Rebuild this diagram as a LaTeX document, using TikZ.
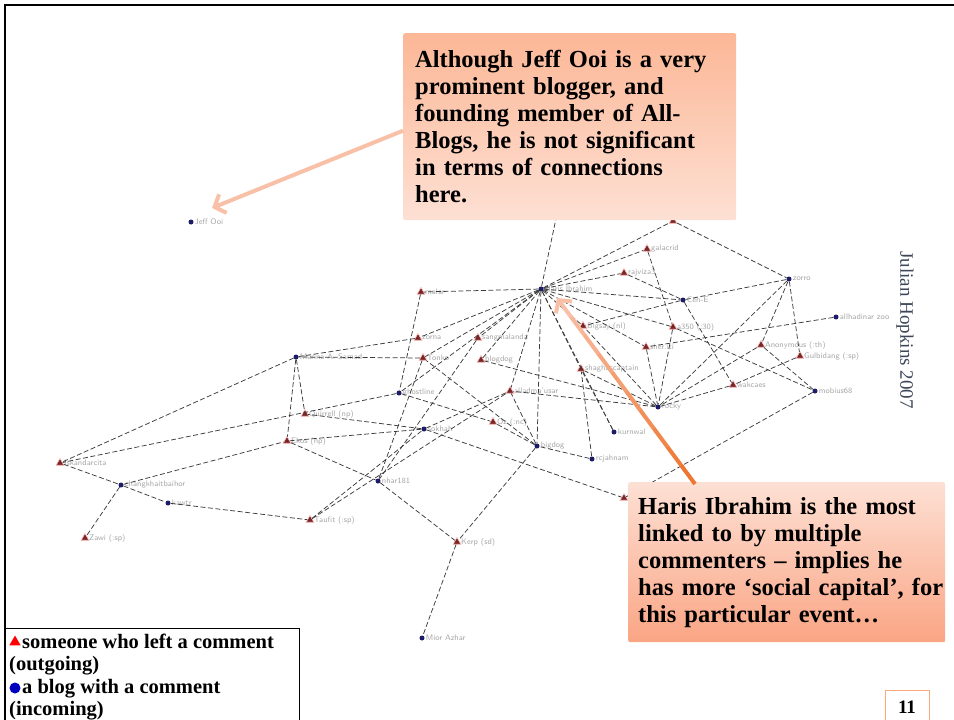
\documentclass[tikz,border=0pt]{standalone}
\usepackage{fontspec}
\setmainfont{Liberation Serif}
\usepackage{tikz}
\usetikzlibrary{positioning, shapes.geometric, arrows.meta, calc}

\definecolor{blognode}{RGB}{28,28,105}
\definecolor{commnode}{RGB}{120,38,38}
\definecolor{edgegray}{RGB}{60,60,60}
\definecolor{calloutA}{RGB}{252,183,150}
\definecolor{calloutB}{RGB}{253,224,212}
\definecolor{calloutC}{RGB}{250,165,132}
\definecolor{arrowpale}{RGB}{249,192,168}
\definecolor{arroworange}{RGB}{238,118,48}
\definecolor{pagebox}{RGB}{249,170,120}
\definecolor{credit}{RGB}{60,70,88}

\begin{document}
\begin{tikzpicture}[
  x=1pt, y=-1pt,
  >=Stealth,
  blog/.style={circle, fill=blognode, inner sep=0pt, minimum size=5pt},
  comm/.style={regular polygon, regular polygon sides=3, fill=commnode, draw=red!25, line width=0.6pt, inner sep=0pt, minimum size=9pt},
  nodelabel/.style={font=\sffamily\fontsize{8}{9}\selectfont, text=gray!70, inner sep=1pt},
  link/.style={edgegray, line width=0.75pt, dash pattern=on 5pt off 2.5pt},
  callout/.style={rounded corners=2pt, inner sep=12pt, align=left, text=black,
    font=\bfseries\fontsize{24.5}{27}\selectfont},
  legendtext/.style={font=\bfseries\fontsize{20.5}{22.5}\selectfont, inner sep=0pt, align=left}
]
\useasboundingbox (0,0) rectangle (954,720);

% Slide frame
\draw[line width=2.5pt] (5,720) -- (5,5) -- (956,5);

% Blogs (incoming)
\node[blog, label={[nodelabel]right:Jeff Ooi}] (jeff) at (191,222) {};
\node[blog, label={[nodelabel]right:Haris Ibrahim}] (haris) at (541,289) {};
\node[blog, label={[nodelabel]right:Cen-E}] (cene) at (683,300) {};
\node[blog, label={[nodelabel]right:zorro}] (zorro) at (789,279) {};
\node[blog, label={[nodelabel]right:allhadinar zoo}] (allhad) at (836,317) {};
\node[blog, label={[nodelabel]right:mobius68}] (mobius) at (815,391) {};
\node[blog, label={[nodelabel]right:rocky}] (rocky) at (658,407) {};
\node[blog, label={[nodelabel]right:kurnwal}] (kurnwal) at (614,432) {};
\node[blog, label={[nodelabel]right:rcjahnam}] (rcjah) at (592,459) {};
\node[blog, label={[nodelabel]right:bigdog}] (bigdogb) at (537,446) {};
\node[blog, label={[nodelabel]right:sokhah}] (sokhah) at (424,429) {};
\node[blog, label={[nodelabel]right:ghostline}] (ghost) at (399,393) {};
\node[blog, label={[nodelabel]right:Marina A. Samad}] (marina) at (296,357) {};
\node[blog, label={[nodelabel]right:changkhaitbaihor}] (chang) at (121,485) {};
\node[blog, label={[nodelabel]right:kawtr}] (kawtr) at (168,503) {};
\node[blog, label={[nodelabel]right:nhar181}] (nhar) at (378,481) {};
\node[blog, label={[nodelabel]right:Mior Azhar}] (mior) at (422,638) {};

% Commenters (outgoing)
\node[comm] (top) at (673,221) {};
\node[comm, label={[nodelabel]right:galacrid}] (galac) at (647,249) {};
\node[comm, label={[nodelabel]right:rajviza3}] (rajv) at (624,273) {};
\node[comm, label={[nodelabel]right:Bigsay (nl)}] (bigsay) at (583,326) {};
\node[comm, label={[nodelabel]right:a350 (:30)}] (a350) at (673,327) {};
\node[comm, label={[nodelabel]right:sher.iti}] (sher) at (646,347) {};
\node[comm, label={[nodelabel]right:Anonymous (:th)}] (anon) at (761,345) {};
\node[comm, label={[nodelabel]right:Gulbidang (:sp)}] (gulb) at (800,356) {};
\node[comm, label={[nodelabel]right:wakcaes}] (wakc) at (733,385) {};
\node[comm, label={[nodelabel]right:malar}] (malar) at (421,292) {};
\node[comm, label={[nodelabel]right:zorna}] (zorna) at (418,338) {};
\node[comm, label={[nodelabel]right:sangmalanda}] (sangm) at (478,338) {};
\node[comm, label={[nodelabel]right:Tonko}] (tonko) at (423,358) {};
\node[comm, label={[nodelabel]right:blogdog}] (bigdogr) at (481,360) {};
\node[comm, label={[nodelabel]right:shaghascaptain}] (shagh) at (581,369) {};
\node[comm, label={[nodelabel]right:alladma'usar}] (allad) at (510,391) {};
\node[comm, label={[nodelabel]right:Oz (:nc)}] (oz) at (493,422) {};
\node[comm, label={[nodelabel]right:Quirrell (np)}] (quir) at (305,414) {};
\node[comm, label={[nodelabel]right:Ekos (np)}] (ekos) at (287,441) {};
\node[comm, label={[nodelabel]right:Iskandarcita}] (iskan) at (60,463) {};
\node[comm, label={[nodelabel]right:Zawi (:sp)}] (zawi) at (85,538) {};
\node[comm, label={[nodelabel]right:Taufit (:sp)}] (taufit) at (310,520) {};
\node[comm, label={[nodelabel]right:Kerp (sd)}] (kerp) at (457,542) {};
\node[comm] (hid) at (624,498) {};
\coordinate (hidtop) at (560,200);

% Links
\foreach \a/\b in {haris/malar, haris/hidtop, haris/top, haris/galac, haris/rajv, haris/cene,
    haris/a350, haris/bigsay, haris/sher, haris/zorna, haris/sangm, haris/tonko, haris/bigdogr,
    haris/allad, haris/shagh, haris/bigdogb, haris/ghost, haris/kurnwal,
    top/zorro, galac/a350, rajv/cene, cene/bigsay, cene/wakc, cene/zorro,
    zorro/anon, zorro/gulb, zorro/rocky, allhad/sher, a350/mobius, a350/rocky, sher/rocky,
    anon/mobius, anon/rocky, gulb/wakc, wakc/rocky, mobius/hid,
    rocky/shagh, rocky/bigsay, rocky/allad, rocky/bigdogr, kurnwal/shagh, rcjah/bigdogb, rcjah/shagh,
    bigdogb/oz, bigdogb/kerp, bigdogb/tonko, bigdogb/allad, taufit/allad, malar/ghost,
    zorna/marina, tonko/marina, tonko/nhar, sangm/nhar, allad/sokhah, ghost/iskan, ghost/oz,
    sokhah/quir, sokhah/ekos, sokhah/hid, marina/iskan, marina/quir, marina/ekos,
    iskan/chang, chang/zawi, chang/kawtr, chang/ekos, kawtr/taufit, ekos/nhar, nhar/kerp,
    kerp/mior, taufit/sokhah} {
  \draw[link] (\a) -- (\b);
}

% Callout on Jeff Ooi
\node[callout, top color=calloutA, bottom color=calloutB, anchor=north west,
      text width=309pt, minimum height=187pt] (jeffnote) at (403,33)
  {Although Jeff Ooi is a very\\prominent blogger, and\\founding member of All-\\Blogs, he is not significant\\in terms of connections\\here.};
\coordinate (jefftip) at (212,208);
\draw[arrowpale, line width=4pt, -{Straight Barb[length=9pt, width=20pt]}]
  ([yshift=-4pt]jeffnote.west) -- (jefftip);

% Callout on Haris Ibrahim
\node[callout, inner xsep=10pt, top color=calloutB, bottom color=calloutC, anchor=north west,
      text width=297pt, minimum height=160pt] (harisnote) at (628,482)
  {Haris Ibrahim is the most\\linked to by multiple\\commenters -- implies he\\\mbox{has more `social capital', for}\\this particular event\dots};
\coordinate (haristail) at (695,484);
\coordinate (haristip) at (557,298);
\foreach \i in {0,...,8} {
  \pgfmathtruncatemacro{\mix}{100-\i*11}
  \draw[arroworange!\mix!arrowpale, line width=4pt]
    ($(haristail)!\i/10!(haristip)$) -- ($(haristail)!\i/10+0.101!(haristip)$);
}
\draw[arrowpale, line width=4pt, -{Straight Barb[length=9pt, width=20pt]}]
  ($(haristail)!0.9!(haristip)$) -- (haristip);

% Credit
\node[rotate=-90, text=credit, font=\fontsize{19}{20}\selectfont] (creditnote) at (905,330)
  {Julian Hopkins 2007};

% Legend
\draw[line width=0.8pt] (5,628) -- (299,628) -- (299,722);
\node[regular polygon, regular polygon sides=3, fill=red, inner sep=0pt, minimum size=13pt]
  (legtri) at (15,642) {};
\node[circle, fill=blue!75!black, inner sep=0pt, minimum size=11pt] (legdot) at (15,688) {};
\node[legendtext, anchor=base west] (legout) at (22,648) {someone who left a comment};
\node[legendtext, anchor=base west] (legout2) at (9,670.5) {(outgoing)};
\node[legendtext, anchor=base west] (legin) at (22,693) {a blog with a comment};
\node[legendtext, anchor=base west] (legin2) at (9,715.5) {(incoming)};

% Page number
\draw[pagebox, line width=1pt] (885,722) -- (885,690) -- (929,690) -- (929,722);
\node[font=\bfseries\fontsize{19}{20}\selectfont] (pagenum) at (907,707) {11};

\end{tikzpicture}
\end{document}
